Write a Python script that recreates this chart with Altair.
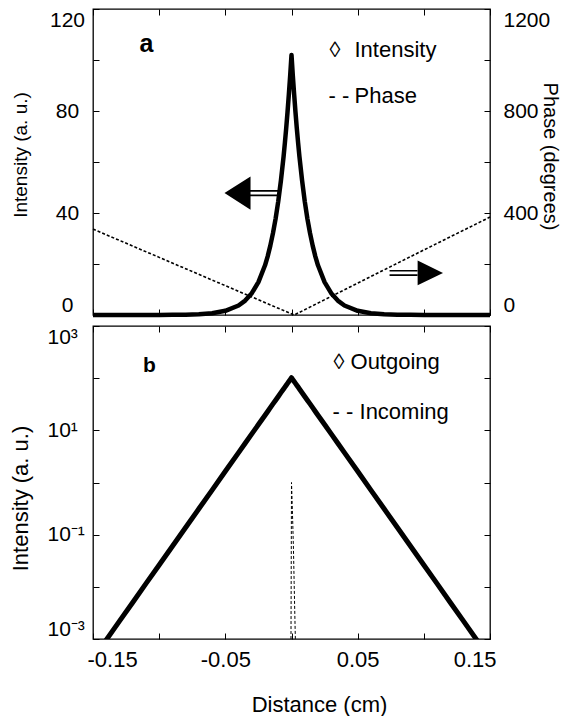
import altair as alt
import pandas as pd

# ---------------- data ----------------
DIST = [-0.150, -0.140, -0.130, -0.120, -0.110, -0.100, -0.090, -0.080, -0.070, -0.060,
        -0.050, -0.040, -0.035, -0.030, -0.025, -0.020, -0.018, -0.016, -0.014, -0.012,
        -0.010, -0.008, -0.006, -0.005, -0.004, -0.003, -0.002, -0.001, 0.000,
        0.001, 0.002, 0.003, 0.004, 0.005, 0.006, 0.008, 0.010, 0.012, 0.014,
        0.016, 0.018, 0.020, 0.025, 0.030, 0.035, 0.040, 0.050, 0.060, 0.070,
        0.080, 0.090, 0.100, 0.110, 0.120, 0.130, 0.140, 0.150]
OUTGOING = [0.00042, 0.00096, 0.0022, 0.0050, 0.0115, 0.0262, 0.060, 0.137, 0.313, 0.716,
            1.64, 3.74, 5.65, 8.55, 12.9, 19.5, 23.0, 27.2, 32.1, 37.8,
            44.6, 52.7, 62.1, 67.5, 73.3, 79.6, 86.5, 93.9, 102.0,
            93.9, 86.5, 79.6, 73.3, 67.5, 62.1, 52.7, 44.6, 37.8, 32.1,
            27.2, 23.0, 19.5, 12.9, 8.55, 5.65, 3.74, 1.64, 0.716, 0.313,
            0.137, 0.060, 0.0262, 0.0115, 0.0050, 0.0022, 0.00096, 0.00042]

PHASE_X = [-0.150, -0.100, -0.050, 0.002, 0.050, 0.100, 0.150]
PHASE = [337, 226, 115, 0, 125, 255, 384]

INCOMING_X = [-0.0004, 0.0000, 0.0005, 0.0010, 0.0015, 0.0020, 0.0025, 0.0030]
INCOMING = [0.0008, 1.0, 0.40, 0.15, 0.05, 0.012, 0.003, 0.0008]

X_TICKS = [-0.15, -0.10, -0.05, 0.0, 0.05, 0.10, 0.15]
I_TICKS = [0, 20, 40, 60, 80, 100, 120]
PHASE_TICKS = [0, 200, 400, 600, 800, 1000, 1200]
LOG_TICKS = [0.001, 0.01, 0.1, 1, 10, 100, 1000]

# annotations (data coordinates)
TOP_LEG_X = [0.0287, 0.0476, 0.0280, 0.0476]
TOP_LEG_Y = [104.1, 104.1, 85.7, 85.7]
TOP_LEG_T = ["\u25ca", "Intensity", "- -", "Phase"]
BOT_LEG_X = [0.0317, 0.0446, 0.0310, 0.0514]
BOT_LEG_Y = [200, 200, 22.0, 22.0]
BOT_LEG_T = ["\u25ca", "Outgoing", "- -", "Incoming"]
PANEL_A = [-0.1096, 106.2, "a"]
PANEL_B = [-0.1073, 174, "b"]
ARROW_L = [-0.0299, 47.8]
ARROW_R = [0.0945, 16.5]

FONT = "Liberation Sans"
W = 397
H_TOP = 306
H_BOT = 313

LEFT_ARROW = ("M-0.98,0L-0.05,-0.59L-0.05,0.59Z "
              "M-0.06,-0.11L0.98,-0.11L0.98,-0.05L-0.06,-0.05Z "
              "M-0.06,0.05L0.98,0.05L0.98,0.11L-0.06,0.11Z")
RIGHT_ARROW = ("M0.98,0L0.04,-0.46L0.04,0.46Z "
               "M-1,-0.11L0.05,-0.11L0.05,-0.05L-1,-0.05Z "
               "M-1,0.05L0.05,0.05L0.05,0.11L-1,0.11Z")

out_df = pd.DataFrame({"x": DIST, "y": OUTGOING})
phase_df = pd.DataFrame({"x": PHASE_X, "y": PHASE})
in_df = pd.DataFrame({"x": INCOMING_X, "y": INCOMING})
top_leg = pd.DataFrame({"x": TOP_LEG_X, "y": TOP_LEG_Y, "t": TOP_LEG_T})
bot_leg = pd.DataFrame({"x": BOT_LEG_X, "y": BOT_LEG_Y, "t": BOT_LEG_T})
pa = pd.DataFrame({"x": [PANEL_A[0]], "y": [PANEL_A[1]], "t": [PANEL_A[2]]})
pb = pd.DataFrame({"x": [PANEL_B[0]], "y": [PANEL_B[1]], "t": [PANEL_B[2]]})
al = pd.DataFrame({"x": [ARROW_L[0]], "y": [ARROW_L[1]]})
ar = pd.DataFrame({"x": [ARROW_R[0]], "y": [ARROW_R[1]]})

xs = alt.Scale(domain=[-0.15, 0.15], nice=False, zero=False)
ys_int = alt.Scale(domain=[0, 120], nice=False, zero=False)
ys_ph = alt.Scale(domain=[0, 1200], nice=False, zero=False)
ys_log = alt.Scale(type="log", domain=[0.001, 1000], nice=False)

tick_common = dict(offset=-6, tickSize=6, domain=False, grid=False)


def xnone():
    return alt.X("x:Q", scale=xs, axis=None)


# ---------------- top panel ----------------
x_bot_top = alt.Axis(orient="bottom", values=X_TICKS, labels=False, title=None, **tick_common)
x_top_top = alt.Axis(orient="top", values=X_TICKS, labels=False, title=None, **tick_common)

y_left_top = alt.Axis(
    orient="left", values=I_TICKS, format="d",
    labelExpr="datum.value % 40 == 0 ? datum.label : ''",
    labelAlign="center", labelPadding=26, labelFlush=True, labelFontSize=21,
    title="Intensity (a. u.)", titleX=-79, titleY=145.5, titleAngle=270,
    titleBaseline="middle", titleFontSize=19, **tick_common)
y_right_top = alt.Axis(
    orient="right", values=PHASE_TICKS, format="d",
    labelExpr="datum.value % 400 == 0 ? datum.label : ''",
    labelAlign="left", labelPadding=13, labelFlush=True, labelFontSize=21,
    title="Phase (degrees)", titleX=65, titleY=147, titleAngle=90,
    titleBaseline="middle", titleFontSize=20, **tick_common)

int_line = alt.Chart(out_df).mark_line(color="black", strokeWidth=4.5, strokeJoin="round").encode(
    x=alt.X("x:Q", scale=xs, axis=x_bot_top),
    y=alt.Y("y:Q", scale=ys_int, axis=y_left_top),
)
phase_line = alt.Chart(phase_df).mark_line(color="black", strokeWidth=1.6, strokeDash=[3, 2]).encode(
    x=alt.X("x:Q", scale=xs, axis=x_top_top),
    y=alt.Y("y:Q", scale=ys_ph, axis=y_right_top),
)
top_text = alt.Chart(top_leg).mark_text(font=FONT, fontSize=22, align="left", baseline="middle", color="black").encode(
    x=xnone(), y=alt.Y("y:Q", scale=ys_int, axis=None), text="t:N")
top_a = alt.Chart(pa).mark_text(font=FONT, fontSize=25, fontWeight="bold", align="center", baseline="middle", color="black").encode(
    x=xnone(), y=alt.Y("y:Q", scale=ys_int, axis=None), text="t:N")
arrow_l = alt.Chart(al).mark_point(shape=LEFT_ARROW, size=3136, filled=True, color="black", opacity=1, strokeWidth=0).encode(
    x=xnone(), y=alt.Y("y:Q", scale=ys_int, axis=None))
arrow_r = alt.Chart(ar).mark_point(shape=RIGHT_ARROW, size=2916, filled=True, color="black", opacity=1, strokeWidth=0).encode(
    x=xnone(), y=alt.Y("y:Q", scale=ys_int, axis=None))

top = alt.layer(int_line, phase_line, top_text, top_a, arrow_l, arrow_r).resolve_scale(
    y="independent").resolve_axis(x="independent", y="independent").properties(width=W, height=H_TOP)

# ---------------- bottom panel ----------------
x_bot_bot = alt.Axis(
    orient="bottom", values=X_TICKS,
    labelExpr=("datum.value < -0.12 ? '-0.15' : (datum.value > -0.07 && datum.value < -0.03) ? '-0.05' : "
               "(datum.value > 0.03 && datum.value < 0.07) ? '0.05' : datum.value > 0.12 ? '0.15' : ''"),
    labelFlush=True, labelFlushOffset=6, labelPadding=10, labelFontSize=22,
    title="Distance (cm)", titleX=226, titleY=71, titleBaseline="middle", titleFontSize=22,
    **tick_common)
x_top_bot = alt.Axis(orient="top", values=X_TICKS, labels=False, title=None, **tick_common)
y_left_bot = alt.Axis(
    orient="left", values=LOG_TICKS,
    labelExpr=("datum.value > 500 ? '10\u00b3' : (datum.value > 5 && datum.value < 50) ? '10\u00b9' : "
               "(datum.value > 0.05 && datum.value < 0.5) ? '10\u207b\u00b9' : datum.value < 0.002 ? '10\u207b\u00b3' : ''"),
    labelAlign="left", labelPadding=46, labelFlush=True, labelFontSize=21,
    title="Intensity (a. u.)", titleX=-79, titleY=172, titleAngle=270,
    titleBaseline="middle", titleFontSize=22, **tick_common)
y_right_bot = alt.Axis(orient="right", values=LOG_TICKS, labels=False, title=None, **tick_common)

out_line = alt.Chart(out_df).mark_line(color="black", strokeWidth=5, clip=True, strokeJoin="round").encode(
    x=alt.X("x:Q", scale=xs, axis=x_bot_bot),
    y=alt.Y("y:Q", scale=ys_log, axis=y_left_bot),
)
in_line = alt.Chart(in_df).mark_line(color="black", strokeWidth=1, strokeDash=[3, 2], clip=True).encode(
    x=alt.X("x:Q", scale=xs, axis=x_top_bot),
    y=alt.Y("y:Q", scale=ys_log, axis=y_right_bot),
)
bot_text = alt.Chart(bot_leg).mark_text(font=FONT, fontSize=22, align="left", baseline="middle", color="black").encode(
    x=xnone(), y=alt.Y("y:Q", scale=ys_log, axis=None), text="t:N")
bot_b = alt.Chart(pb).mark_text(font=FONT, fontSize=21, fontWeight="bold", align="center", baseline="middle", color="black").encode(
    x=xnone(), y=alt.Y("y:Q", scale=ys_log, axis=None), text="t:N")

bottom = alt.layer(out_line, in_line, bot_text, bot_b).resolve_axis(
    x="independent", y="independent").properties(width=W, height=H_BOT)

chart = alt.vconcat(top, bottom, spacing=5).properties(
    padding={"left": 0, "top": -1, "right": 0, "bottom": 0}
).configure_view(stroke="black", strokeWidth=1.3).configure_axis(
    labelFont=FONT, titleFont=FONT, labelColor="black", titleColor="black",
    tickColor="black", tickWidth=1, titleFontWeight="normal"
)

chart.save("out.html", embed_options={"renderer": "svg", "actions": False})
